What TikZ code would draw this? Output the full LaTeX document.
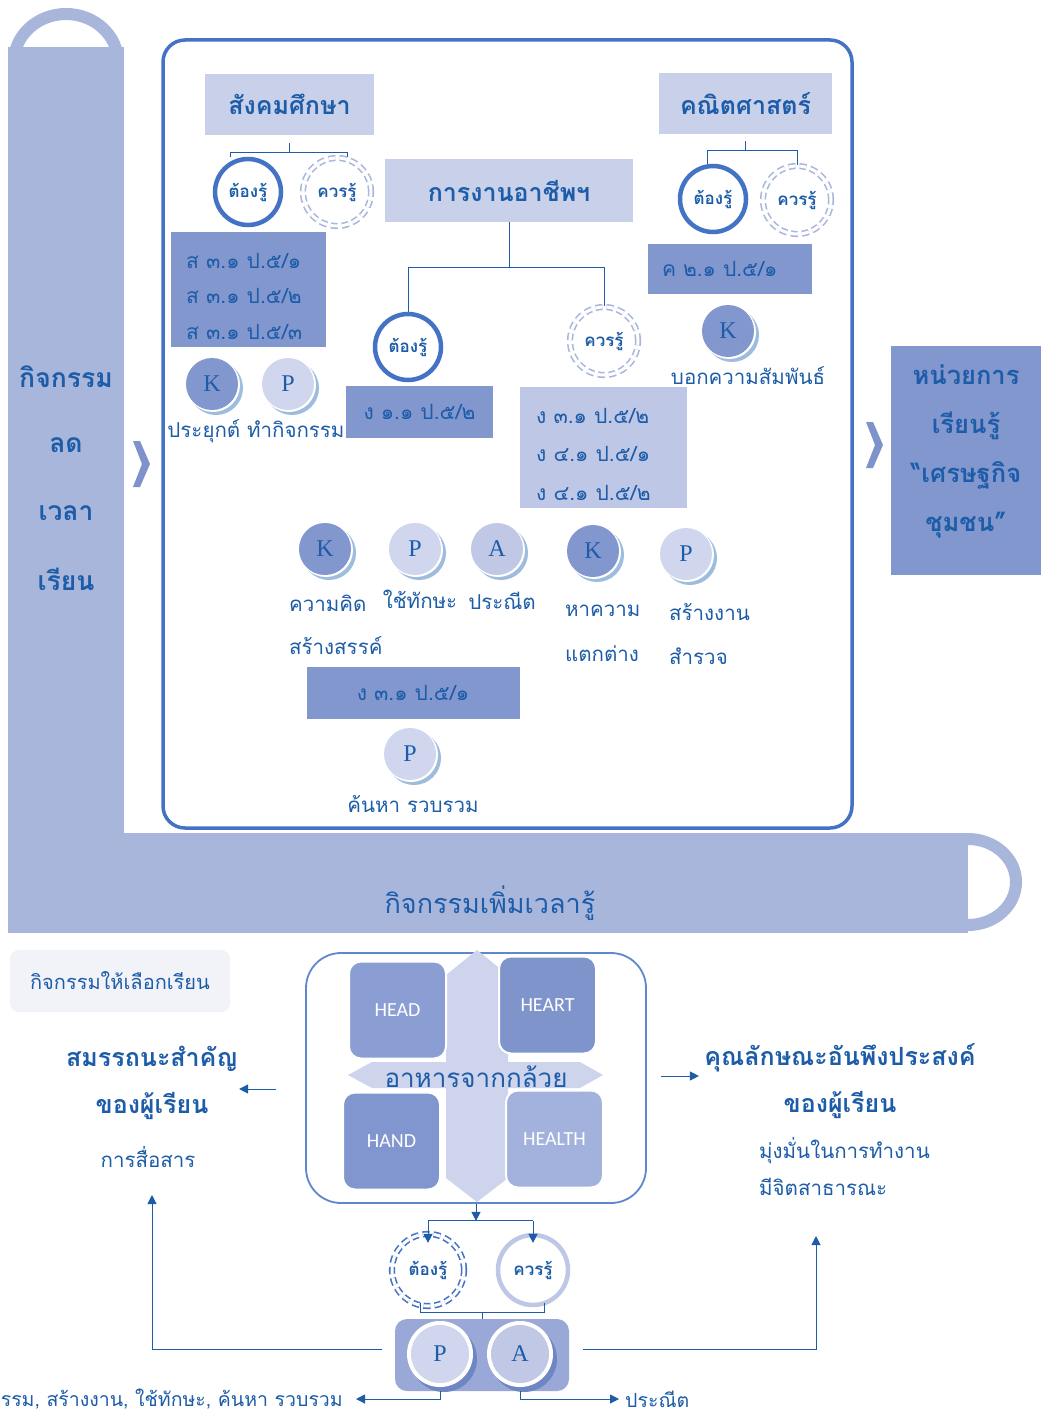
\documentclass[tikz,border=0pt]{standalone}
\usepackage{fontspec}
\usetikzlibrary{calc,positioning,arrows.meta}
\setmainfont{Loma}[Script=Thai]
\newfontfamily\kpafont{Liberation Serif}
\newfontfamily\quadfont{Carlito}
\definecolor{band}{HTML}{A9B6DC}
\definecolor{ink}{HTML}{1C5CA8}
\definecolor{frame}{HTML}{4472C4}
\definecolor{boxmid}{HTML}{8397CF}
\definecolor{boxpale}{HTML}{C9D0EA}
\definecolor{boxlt}{HTML}{BFC7E6}
\definecolor{crescent}{HTML}{9EBCDD}
\definecolor{ballP}{HTML}{D0D6EE}
\definecolor{ballA}{HTML}{C0C8E6}
\definecolor{crossc}{HTML}{CDD4EC}
\definecolor{chev}{HTML}{7F93CB}
\definecolor{pabox}{HTML}{99A8D6}
\definecolor{pashade}{HTML}{6F86C4}
\definecolor{qhead}{HTML}{8A9ED3}
\definecolor{qheart}{HTML}{7F94CB}
\definecolor{qhand}{HTML}{8196CE}
\definecolor{qhealth}{HTML}{A3B2DC}
\definecolor{optbg}{HTML}{F2F3F8}
\tikzset{
  bandtxt/.style={text=ink, font=\bfseries\fontsize{26.5}{30}\selectfont},
  subj/.style={fill=boxpale, text=ink, font=\bfseries\fontsize{25}{28}\selectfont, inner sep=0pt},
  must/.style={circle, draw=frame, line width=4.5pt, fill=white, minimum size=66pt, inner sep=0pt, text=ink, font=\bfseries\fontsize{17}{18}\selectfont},
  should/.style={circle, draw=band, line width=1.6pt, double=white, double distance=3pt, dash pattern=on 7pt off 4pt, minimum size=68pt, inner sep=0pt, text=ink, font=\bfseries\fontsize{17}{18}\selectfont},
  codes/.style={fill=boxmid, text=ink, font=\fontsize{21}{36}\selectfont, align=left, inner sep=0pt},
  codetxt/.style={text=ink, align=left, inner sep=0pt},
  ball/.style={circle, minimum size=52pt, inner sep=0pt, text=ink, font=\kpafont\fontsize{24}{24}\selectfont},
  lbl/.style={text=ink, font=\fontsize{20.5}{22}\selectfont, inner sep=1pt},
  head/.style={text=ink, font=\bfseries\fontsize{25}{30}\selectfont},
  conn/.style={draw=ink, line width=1pt},
  arr/.style={conn, -{Triangle[length=9pt,width=9pt]}},
  quad/.style={rounded corners=12pt, draw=white, line width=2pt, minimum size=97pt, text=white, font=\quadfont\fontsize{20}{22}\selectfont},
}
\newcommand\kball[4]{% name, centre, fill, letter
  \fill[crescent] ($(#2)+(4,4)$) circle[radius=27pt];
  \fill[white] ($(#2)+(1,1)$) circle[radius=27pt];
  \node[ball, fill=#3] (#1) at (#2) {#4};
}
\newcommand\paball[4]{% name, centre, fill, letter
  \fill[pashade] ($(#2)+(4,5)$) circle[radius=33pt];
  \fill[white] (#2) circle[radius=33pt];
  \node[ball, minimum size=58pt, fill=#3] (#1) at (#2) {#4};
}
\begin{document}
\begin{tikzpicture}[x=1pt,y=-1pt]
\useasboundingbox[fill=white] (0,0) rectangle (1041,1415);
% L-shaped band with its two rings
\draw[band, line width=12pt] (66,62) ellipse[x radius=52pt, y radius=48pt];
\draw[band, line width=12pt] (968,882) ellipse[x radius=48pt, y radius=43pt];
\fill[band] (8,47) rectangle (124,933);
\fill[band] (8,833) rectangle (968,933);
\node[bandtxt] (v1) at (66,377) {กิจกรรม};
\node[bandtxt] (v2) at (66,445) {ลด};
\node[bandtxt] (v3) at (66,513) {เวลา};
\node[bandtxt] (v4) at (66,579) {เรียน};
\node[text=ink, font=\fontsize{27}{30}\selectfont] (more) at (490,903) {กิจกรรมเพิ่มเวลารู้};
% chevrons
\fill[chev] (133,441) -- (140,441) -- (150,464) -- (140,487) -- (133,487) -- (142,464) -- cycle;
\fill[chev] (866,422) -- (873,422) -- (883,445) -- (873,468) -- (866,468) -- (875,445) -- cycle;
% frame
\draw[frame, line width=3.5pt, rounded corners=22pt] (163,40) rectangle (852,828);
% unit box
\node[fill=boxmid, minimum width=150pt, minimum height=229pt, inner sep=0pt] (unit) at (966,460.5) {};
\node[text=ink, align=center, inner sep=0pt,
  font=\bfseries\fontsize{25.5}{49}\selectfont] (unitt) at (966,451) {หน่วยการ\\เรียนรู้\\“เศรษฐกิจ\\ชุมชน”};

% social studies
\node[subj, minimum width=169pt, minimum height=61pt] (soc) at (289.5,104.5) {สังคมศึกษา};
\node[must] (smust) at (248,192) {ต้องรู้};
\node[should] (sshould) at (337,192) {ควรรู้};
\draw[conn] ($(smust.north)+(-18,0)$) |- ($(soc.south)+(0,17)$) -| ($(sshould.north)+(10,0)$);
\draw[conn] (soc.south) ++(0,8) -- ++(0,9);
\node[codes, minimum width=155pt, minimum height=115pt] (scode) at (248.5,289.5) {};
\node[codetxt, font=\fontsize{21}{35.5}\selectfont, anchor=west] (scodet) at (186,296) {ส ๓.๑ ป.๕/๑\\ส ๓.๑ ป.๕/๒\\ส ๓.๑ ป.๕/๓};
\kball{sk}{212,384}{boxmid}{K}
\kball{sp}{288,384}{ballP}{P}
\node[lbl] (sl) at (256,431) {ประยุกต์ ทำกิจกรรม};

% mathematics
\node[subj, minimum width=173pt, minimum height=61pt] (math) at (745.5,103.5) {คณิตศาสตร์};
\node[must] (mmust) at (713,199) {ต้องรู้};
\node[should] (mshould) at (797,200) {ควรรู้};
\draw[conn] ($(mmust.north)+(-6,0)$) |- ($(math.south)+(0,16)$) -| (mshould.north);
\draw[conn] (math.south) ++(0,7) -- ++(0,9);
\node[codes, minimum width=164pt, minimum height=50pt, text width=136pt] (mcode) at (730,269) {ค ๒.๑ ป.๕/๑};
\kball{mk}{728,331}{boxmid}{K}
\node[lbl] (ml) at (748,376) {บอกความสัมพันธ์};

% careers
\node[subj, minimum width=248pt, minimum height=63pt] (work) at (509,190.5) {การงานอาชีพฯ};
\node[must] (wmust) at (408,347) {ต้องรู้};
\node[should] (wshould) at (604,341) {ควรรู้};
\draw[conn] (work.south) -- ++(0,45) coordinate (fork);
\draw[conn] (fork) -| (wmust.north);
\draw[conn] (fork) -| (wshould.north);
\node[codes, minimum width=147pt, minimum height=52pt] (wcode1) at (419.5,412) {ง ๑.๑ ป.๕/๒};
\node[codes, fill=boxlt, minimum width=167pt, minimum height=121pt] (wcode2) at (603.5,447.5) {};
\node[codetxt, font=\fontsize{21}{38.5}\selectfont, anchor=west] (wcode2t) at (536,454) {ง ๓.๑ ป.๕/๒\\ง ๔.๑ ป.๕/๑\\ง ๔.๑ ป.๕/๒};
\kball{wk1}{325,549}{boxmid}{K}
\kball{wp1}{415,549}{ballP}{P}
\kball{wa1}{497,549}{ballA}{A}
\node[lbl, anchor=west] (wl1) at (288,603) {ความคิด};
\node[lbl, anchor=west] (wl1b) at (288,646) {สร้างสรรค์};
\node[lbl] (wl2) at (420,599) {ใช้ทักษะ};
\node[lbl] (wl3) at (502,601) {ประณีต};
\kball{wk2}{593,551}{boxmid}{K}
\kball{wp2}{686,554}{ballP}{P}
\node[lbl, anchor=west] (wl4) at (564,611) {หาความ};
\node[lbl, anchor=west] (wl4b) at (564,654) {แตกต่าง};
\node[lbl, anchor=west] (wl5) at (668,612) {สร้างงาน};
\node[lbl, anchor=west] (wl5b) at (668,656) {สำรวจ};
\node[codes, minimum width=213pt, minimum height=52pt] (wcode3) at (413,692.5) {ง ๓.๑ ป.๕/๑};
\kball{wp3}{410,754}{ballP}{P}
\node[lbl] (wl6) at (413,804) {ค้นหา รวบรวม};

% optional activities
\node[fill=optbg, rounded corners=9pt, minimum width=220pt, minimum height=62pt, text=ink,
  font=\fontsize{20}{22}\selectfont] (opt) at (120,981) {กิจกรรมให้เลือกเรียน};
\node[head] (comp1) at (152,1059) {สมรรถนะสำคัญ};
\node[head] (comp2) at (152,1106) {ของผู้เรียน};
\node[lbl] (comm) at (148,1157) {การสื่อสาร};
\node[head] (attr1) at (840,1058) {คุณลักษณะอันพึงประสงค์};
\node[head] (attr2) at (840,1105) {ของผู้เรียน};
\node[lbl, anchor=west] (att1) at (758,1151) {มุ่งมั่นในการทำงาน};
\node[lbl, anchor=west] (att2) at (758,1187) {มีจิตสาธารณะ};

% banana food box
\node[draw=frame!85, line width=1.8pt, rounded corners=35pt, minimum width=340pt, minimum height=250pt] (food) at (476,1078) {};
\fill[crossc] (477,950) -- (508,975) -- (508,1062) -- (580,1062) -- (603,1075) -- (580,1088)
  -- (508,1088) -- (508,1178) -- (477,1202) -- (446,1178) -- (446,1088) -- (372,1088)
  -- (348,1075) -- (372,1062) -- (446,1062) -- (446,975) -- cycle;
\node[quad, fill=qhead] (qa) at (397.5,1010) {HEAD};
\node[quad, fill=qheart] (qb) at (547.5,1005) {HEART};
\node[quad, fill=qhand] (qc) at (391.5,1141) {HAND};
\node[quad, fill=qhealth] (qd) at (554.5,1139) {HEALTH};
\node[text=ink, font=\fontsize{26}{30}\selectfont] (banana) at (476,1077) {อาหารจากกล้วย};
\draw[arr] ($(food.west)+(-29,11)$) -- ($(food.west)+(-66,11)$);
\draw[arr] ($(food.east)+(14,-2)$) -- ++(38,0);

% know / should-know below the box
\node[should, draw=frame, minimum size=72pt] (bmust) at (428,1270) {ต้องรู้};
\node[must, draw=boxlt, minimum size=70pt] (bshould) at (533,1270) {ควรรู้};
\draw[arr] (food.south) -- ++(0,17) coordinate (fork2);
\draw[conn] (fork2) -- (fork2 -| bmust.north);
\draw[conn] (fork2) -- (fork2 -| bshould.north);
\draw[arr] (fork2 -| bmust.north) -- ++(0,22);
\draw[arr] (fork2 -| bshould.north) -- ++(0,22);
\node[fill=pabox, rounded corners=12pt, minimum width=174pt, minimum height=72pt] (pa) at (482,1355) {};
\draw[conn] ($(bmust.south)+(-8,-4)$) |- ($(pa.north)+(0,-6)$) -| ($(bshould.south)+(11,-4)$);
\draw[conn] (pa.north) -- ++(0,-6);
\paball{pp}{440,1354}{ballP}{P}
\paball{pA}{520,1354}{ballA}{A}
\coordinate (lefttip) at (152,1195);
\coordinate (righttip) at (816,1236);
\draw[arr] ($(pa.west)+(-13,-6)$) -| (lefttip);
\draw[arr] ($(pa.east)+(14,-6)$) -| (righttip);
\node[lbl, font=\fontsize{19.5}{22}\selectfont, anchor=east] (pskills) at (344,1399) {ทำกิจกรรม, สร้างงาน, ใช้ทักษะ, ค้นหา รวบรวม};
\node[lbl, font=\fontsize{19.5}{22}\selectfont, anchor=west] (aneat) at (624,1399) {ประณีต};
\draw[arr] (pp.south |- pa.south) |- ($(pskills.east)+(12,0)$);
\draw[arr] (pA.south |- pa.south) |- ($(aneat.west)+(-5,0)$);
\end{tikzpicture}
\end{document}
